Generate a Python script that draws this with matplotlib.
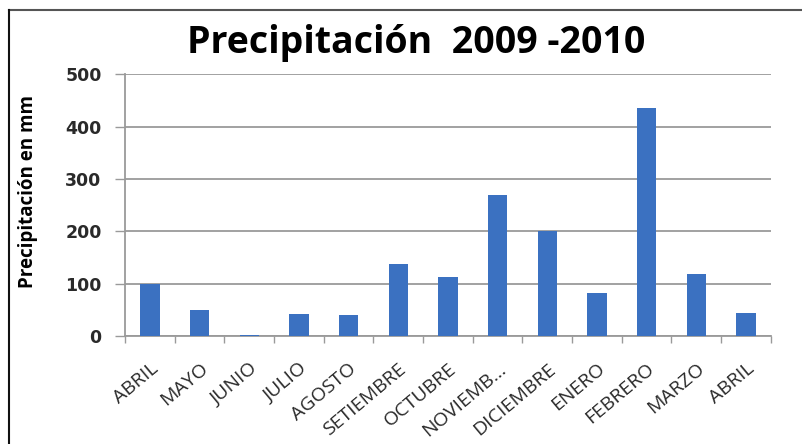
import matplotlib.pyplot as plt
import numpy as np
from matplotlib.lines import Line2D

# ── Data ─────────────────────────────────────────────────────────────────────
months = ['ABRIL', 'MAYO', 'JUNIO', 'JULIO', 'AGOSTO', 'SETIEMBRE', 'OCTUBRE',
          'NOVIEMB...', 'DICIEMBRE', 'ENERO', 'FEBRERO', 'MARZO', 'ABRIL']
precip = [100, 50, 3, 42, 40, 137, 113, 269, 200, 82, 436, 118, 45]
yticks = [0, 100, 200, 300, 400, 500]

BAR_C = '#3B71C1'
GRID_C = '#9a9a9a'
TXT_C = '#2a2a2a'

plt.rcParams['font.family'] = ['Open Sans', 'DejaVu Sans']

fig = plt.figure(figsize=(8.02, 4.44), dpi=100)
fig.patch.set_facecolor('white')
ax = fig.add_axes([0.156, 0.243, 0.805, 0.590])

x = np.arange(len(months))
ax.bar(x, precip, width=0.39, color=BAR_C, zorder=3)

ax.set_xlim(-0.5, len(months) - 0.5)
ax.set_ylim(0, 500)
ax.set_yticks(yticks)
ax.set_yticklabels([str(v) for v in yticks], fontsize=12.5, fontweight='bold',
                   color=TXT_C, family='DejaVu Sans')
ax.yaxis.grid(True, color=GRID_C, lw=1.3, zorder=0)
ax.tick_params(axis='y', length=7, color=GRID_C, width=1, pad=10)

# category labels at centres, tick marks at boundaries
ax.set_xticks(x)
ax.set_xticklabels(months, rotation=40, ha='right', rotation_mode='anchor',
                   fontsize=14, color=TXT_C)
ax.tick_params(axis='x', which='major', length=0, pad=17)
ax.set_xticks(np.arange(-0.5, len(months)), minor=True)
ax.tick_params(axis='x', which='minor', length=5, color=GRID_C, width=1)

for s in ['top', 'right']:
    ax.spines[s].set_visible(False)
for s in ['left', 'bottom']:
    ax.spines[s].set_color(GRID_C)
    ax.spines[s].set_linewidth(1.3)

fig.text(28 / 802, 1 - 192 / 444, 'Precipitación en mm', rotation=90,
         ha='center', va='center', fontsize=13.5, fontweight='bold', color='black')

fig.text(187 / 802, 1 - 53 / 444, 'Precipitación  2009 -2010', ha='left', va='baseline',
         fontsize=27, fontweight='bold', color='black')

# outer frame (top and left edges visible)
fig.add_artist(Line2D([9 / 802, 1], [1 - 10.5 / 444, 1 - 10.5 / 444],
                      transform=fig.transFigure, color='#555555', lw=1.5))
fig.add_artist(Line2D([9 / 802, 9 / 802], [0, 1 - 10.5 / 444],
                      transform=fig.transFigure, color='#111111', lw=1.5))

fig.savefig('out.png', dpi=100, facecolor='white')
